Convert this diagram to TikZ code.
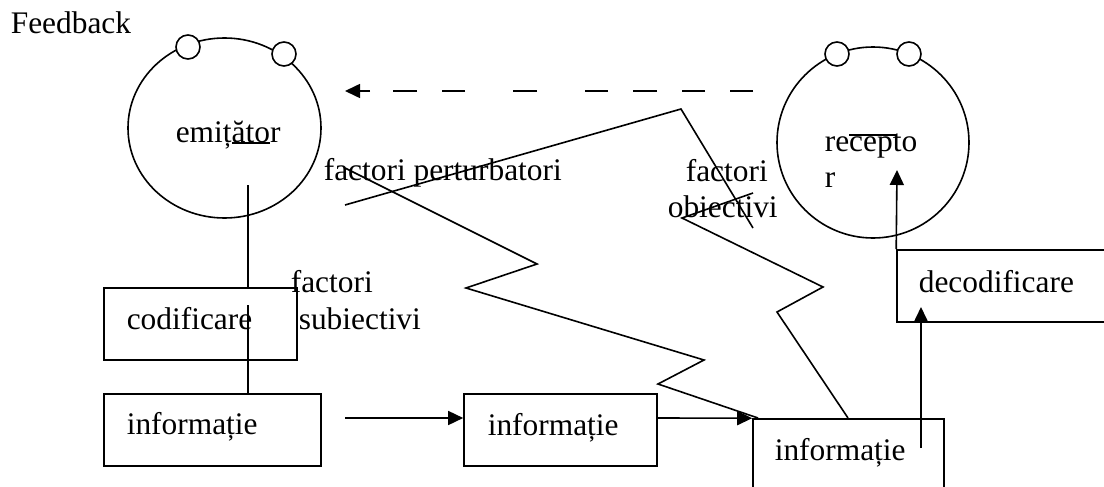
\documentclass[tikz,border=0pt]{standalone}
\usepackage{fontspec}
\setmainfont{Liberation Serif}
\usetikzlibrary{arrows.meta,shapes.geometric}
\begin{document}
\begin{tikzpicture}[x=0.5pt,y=-0.5pt,line width=0.8pt,
  lbl/.style={anchor=base west,inner sep=0,font=\fontsize{15.7}{18}\selectfont},
  boxn/.style={draw,rectangle,inner sep=0,fill=white},
  bigc/.style={draw,ellipse,inner sep=0},
  smallc/.style={draw,circle,inner sep=0,minimum size=12pt,fill=white},
  arr/.style={-{Triangle[length=7.5pt,width=7pt]}}]
\useasboundingbox (0,0) rectangle (1104,487);
% title
\node[lbl] (fb) at (10,33) {Feedback};
% emitter
\node[bigc,minimum width=96.5pt,minimum height=90pt] (emit) at (224.5,128) {};
\node[smallc] (e1) at (188,47) {};
\node[smallc] (e2) at (284,54) {};
\node[lbl] (emitt) at (175,142) {emițător};
% receptor
\node[bigc,minimum width=96pt,minimum height=95.5pt] (rec) at (873,142.5) {};
\node[smallc] (r1) at (837,54) {};
\node[smallc] (r2) at (909,54) {};
\node[lbl] (rect1) at (824,151) {recepto};
\node[lbl] (rect2) at (824,187) {r};
% boxes
\node[boxn,minimum width=96.5pt,minimum height=36pt] (cod) at (200.5,324) {};
\node[boxn,minimum width=108.5pt,minimum height=36pt] (info1) at (212.5,430) {};
\node[boxn,minimum width=96.5pt,minimum height=36pt] (info2) at (560.5,430) {};
\node[boxn,minimum width=95.5pt,minimum height=38pt] (info3) at (848.5,457) {};
\node[boxn,minimum width=108pt,minimum height=36pt] (decod) at (1005,286) {};
\node[lbl] (codt) at (126,329) {codificare};
\node[lbl] (info1t) at (126,434) {informație};
\node[lbl] (info2t) at (487,435) {informație};
\node[lbl] (info3t) at (774,460) {informație};
\node[lbl] (decodt) at (918,292) {decodificare};
% factor labels
\node[lbl] (fp) at (323,180) {factori perturbatori};
\node[lbl] (fs1) at (290,292) {factori};
\node[lbl] (fs2) at (298,329) {subiectivi};
\node[lbl] (fo1) at (685,181) {factori};
\node[lbl] (fo2) at (667,217) {obiectivi};
% coordinates
\coordinate (emitout) at (248,185);
\coordinate (codin) at (248,305);
\coordinate (a1s) at (345,418);
\coordinate (a3s) at (921,448);
\coordinate (a3e) at (921,307);
\coordinate (a4e) at (897,170);
\coordinate (fbs) at (753,91);
\coordinate (fbe) at (345,91);
% connectors
\draw (emitout) -- (emitout |- cod.north);
\draw (codin) -- (codin |- info1.north);
\draw[arr] (a1s) -- (a1s -| info2.west);
\draw[arr] (info2.east |- a1s) -- (info3.north west);
\draw[arr] (a3s) -- (a3e);
\draw[arr] (decod.north west) -- (a4e);
\draw[arr,dash pattern=on 11.5pt off 12.5pt on 11.5pt off 12.5pt on 12pt off 12.5pt on 11.5pt off 24pt on 12pt off 24pt on 11.5pt off 12.5pt on 12pt off 11.5pt on 20pt off 10pt] (fbs) -- (fbe);
% zigzag lines
\draw (345,205) -- (681,109) -- (753,228);
\draw (753,193) -- (682,218) -- (823,287) -- (777,312) -- (848,418);
\draw (345,168) -- (537,264) -- (466,288) -- (704,360) -- (658,384) -- (758,418);
% stray strokes over texts
\draw[line width=0.6pt] (232,143) -- (270,143);
\draw[line width=0.6pt] (849,135) -- (897,135);
\end{tikzpicture}
\end{document}
